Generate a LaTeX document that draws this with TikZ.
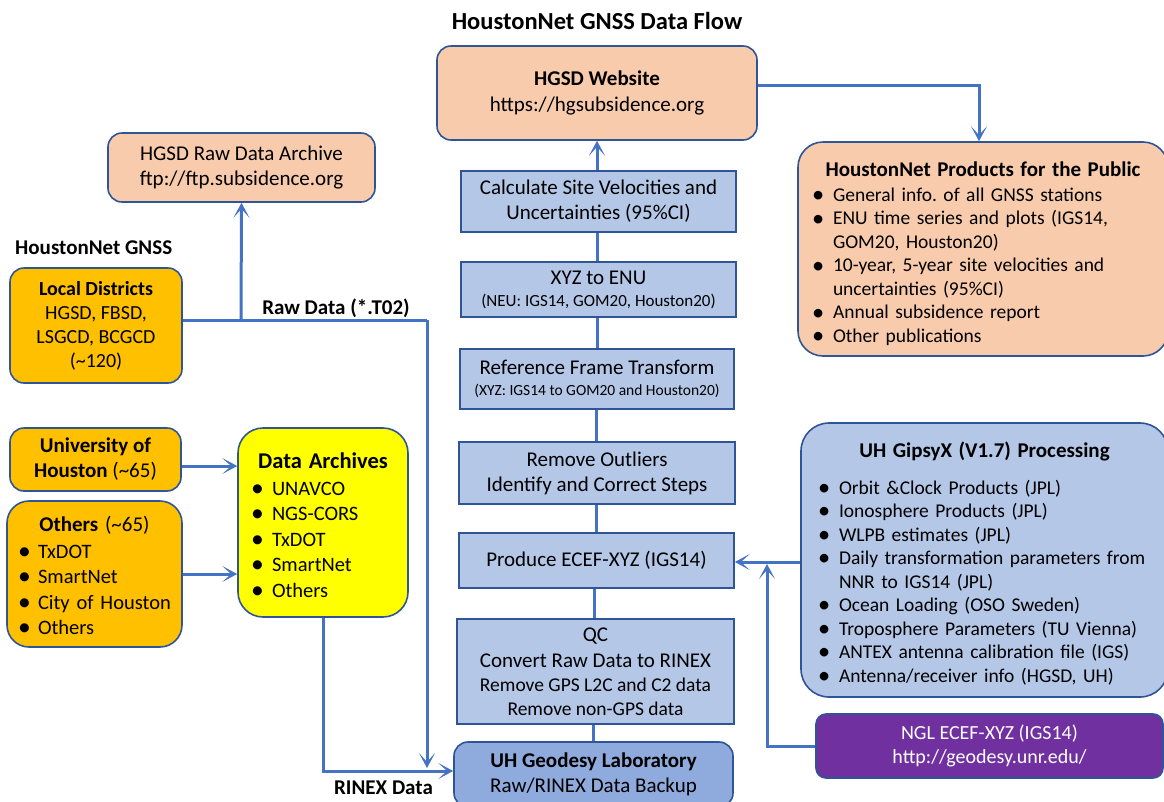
\documentclass[tikz,border=0pt]{standalone}
\usepackage{fontspec}
\setmainfont{Carlito}
\usetikzlibrary{arrows.meta}
\definecolor{peach}{HTML}{F8CBAD}
\definecolor{boxblue}{HTML}{B4C7E7}
\definecolor{labblue}{HTML}{8FAADC}
\definecolor{gold}{HTML}{FFC000}
\definecolor{yel}{HTML}{FFFF00}
\definecolor{purp}{HTML}{7030A0}
\definecolor{edge}{HTML}{2F5597}
\definecolor{flow}{HTML}{4472C4}
\newcommand{\fmain}{\fontsize{21}{25}\selectfont}
\newcommand{\flist}{\fontsize{19.5}{23.5}\selectfont}
\newcommand{\bigbul}{\raisebox{-0.12ex}{\scalebox{1.25}{\textbullet}}}
\newcommand{\bul}{\makebox[21pt][l]{\bigbul}}
\newcommand{\bulb}{\makebox[20pt][l]{\bigbul}}
\frenchspacing
\hyphenpenalty=10000
\begin{document}
\begin{tikzpicture}[x=1pt,y=-1pt,
  box/.style={draw=edge, line width=1.6pt, align=center, inner sep=0pt, font=\fmain},
  rbox/.style={box, rounded corners=14pt},
  flowline/.style={draw=flow, line width=3pt},
  flowarrow/.style={flowline, -{Stealth[length=15pt,width=16pt,inset=9pt]}},
  lbl/.style={font=\fmain\bfseries, inner sep=0pt}]
\useasboundingbox (0,0) rectangle (1164,801);

% title
\node[font=\fontsize{24.5}{29}\selectfont\bfseries, inner sep=0pt] (title) at (597,21) {HoustonNet GNSS Data Flow};

% central column
\node[rbox, fill=peach, minimum width=320pt, minimum height=94pt, font=\fontsize{21}{26}\selectfont] (web) at (597,93)
  {\textbf{HGSD Website}\\https://hgsubsidence.org};
\node[box, fill=boxblue, minimum width=275pt, minimum height=61pt] (calc) at (598.5,201.5)
  {Calculate Site Velocities and\\Uncertainties (95\%CI)};
\node[box, fill=boxblue, minimum width=275pt, minimum height=55pt] (enu) at (598.5,289.5)
  {XYZ to ENU\\[-3pt]{\fontsize{17}{20}\selectfont (NEU: IGS14, GOM20, Houston20)}};
\node[box, fill=boxblue, minimum width=274pt, minimum height=60pt] (rft) at (597,379)
  {Reference Frame Transform\\[-4pt]{\fontsize{15.5}{18}\selectfont (XYZ: IGS14 to GOM20 and Houston20)}};
\node[box, fill=boxblue, minimum width=276pt, minimum height=62pt] (outl) at (597,473)
  {Remove Outliers\\Identify and Correct Steps};
\node[box, fill=boxblue, minimum width=275pt, minimum height=55pt] (ecef) at (596.5,560.5)
  {Produce ECEF-XYZ (IGS14)};
\node[box, fill=boxblue, minimum width=277pt, minimum height=105pt] (qc) at (595.5,671.5)
  {QC\\[1pt]Convert Raw Data to RINEX\\[-1pt]{\fontsize{19.5}{23.5}\selectfont Remove GPS L2C and C2 data}\\[-1pt]{\fontsize{19.5}{23.5}\selectfont Remove non-GPS data}};
\node[rbox, fill=labblue, minimum width=279pt, minimum height=65pt] (lab) at (593.5,774.5)
  {\textbf{UH Geodesy Laboratory}\\Raw/RINEX Data Backup};

% left side
\node[rbox, fill=peach, minimum width=267pt, minimum height=69pt] (arch) at (241.5,167.5)
  {HGSD Raw Data Archive\\ftp://ftp.subsidence.org};
\node[lbl, anchor=west] (hgnss) at (15,248) {HoustonNet GNSS};
\node[rbox, fill=gold, minimum width=172pt, minimum height=115pt, font=\fontsize{20}{24}\selectfont] (local) at (96,325.5)
  {\textbf{Local Districts}\\HGSD, FBSD,\\LSGCD, BCGCD\\(\textasciitilde120)};
\node[rbox, fill=gold, minimum width=171pt, minimum height=63pt] (uh) at (95.5,459.5)
  {\textbf{University of}\\\textbf{Houston} (\textasciitilde65)};
\node[rbox, fill=gold, minimum width=175pt, minimum height=146pt, rounded corners=22pt,
      text width=153pt, inner xsep=11pt, align=left, font=\fontsize{20.5}{25.5}\selectfont] (others) at (94.5,574)
  {\makebox[\linewidth][c]{\fontsize{21}{25}\selectfont\rule{0pt}{19pt}\textbf{Others} (\textasciitilde65)}\\[1.5pt]
   \bulb\mbox{TxDOT}\\\bulb\mbox{SmartNet}\\\bulb\mbox{City of Houston}\\\bulb\mbox{Others}};
\node[rbox, fill=yel, minimum width=170pt, minimum height=189pt, rounded corners=25pt,
      text width=144pt, inner xsep=13pt, align=left, font=\fontsize{20.5}{25.5}\selectfont] (da) at (323,522.5)
  {\makebox[\linewidth][c]{\fontsize{22.5}{27}\selectfont\rule{0pt}{22pt}\bfseries Data Archives}\\[1pt]
   \bul UNAVCO\\\bul NGS-CORS\\\bul TxDOT\\\bul SmartNet\\\bul Others};

% right side
\node[rbox, fill=peach, minimum width=370pt, minimum height=214pt, rounded corners=25pt,
      text width=342pt, inner xsep=14pt, align=left, font=\flist] (prod) at (983,249)
  {\makebox[\linewidth][c]{\fontsize{21}{25}\selectfont\rule{0pt}{24pt}\bfseries HoustonNet Products for the Public}\\[1.5pt]
   \bul General info. of all GNSS stations\\
   \bul ENU time series and plots (IGS14,\\
   \hspace*{21pt}GOM20, Houston20)\\
   \bul 10-year, 5-year site velocities and\\
   \hspace*{21pt}uncertainties (95\%CI)\\
   \bul Annual subsidence report\\
   \bul Other publications};
\node[rbox, fill=boxblue, minimum width=367pt, minimum height=274pt, rounded corners=28pt,
      text width=333pt, inner xsep=17pt, align=left, font=\flist] (gipsy) at (984.5,560)
  {\makebox[\linewidth][c]{\fontsize{21}{25}\selectfont\rule{0pt}{22pt}\bfseries UH GipsyX (V1.7) Processing}\\[13.5pt]
   \bul Orbit \&Clock Products (JPL)\\
   \bul Ionosphere Products (JPL)\\
   \bul WLPB estimates (JPL)\\
   \bul Daily transformation parameters from\\
   \hspace*{21pt}NNR to IGS14 (JPL)\\
   \bul Ocean Loading (OSO Sweden)\\
   \bul Troposphere Parameters (TU Vienna)\\
   \bul ANTEX antenna calibration file (IGS)\\
   \bul Antenna/receiver info (HGSD, UH)};
\node[rbox, fill=purp, text=white, minimum width=347pt, minimum height=64pt, rounded corners=10pt,
      font=\fontsize{20}{24}\selectfont] (ngl) at (989.5,746)
  {NGL ECEF-XYZ (IGS14)\\http://geodesy.unr.edu/};

% labels
\node[lbl] (rawlbl) at (336,308) {Raw Data (*.T02)};
\node[lbl] (rinexlbl) at (383.5,788) {RINEX Data};

% helper coordinates
\coordinate (j1) at (241,320);
\coordinate (j2) at (427,320);
\coordinate (rawend) at (427,768);
\coordinate (nglend) at (767,564);

% connectors
\draw[flowline] (local.east |- j1) -- (j2);
\draw[flowarrow] (j2) -- (rawend);
\draw[flowarrow] (j1) -- (arch.south);
\draw[flowarrow] ([yshift=-6.5pt]uh.east) -- ([yshift=-6.5pt]uh.east -| da.west);
\draw[flowarrow] (others.east) -- (others.east -| da.west);
\draw[flowarrow] (da.south) |- ([yshift=3.5pt]lab.west);

\draw[flowarrow] (calc.north -| web.south) -- (web.south);
\draw[flowline] (calc.south -| 597,0) -- (enu.north -| 597,0);
\draw[flowline] (enu.south -| 597,0) -- (rft.north -| 597,0);
\draw[flowline] (rft.south -| 596,0) -- (outl.north -| 596,0);
\draw[flowline] (outl.south -| 596,0) -- (ecef.north -| 596,0);
\draw[flowline] (ecef.south -| 594,0) -- (qc.north -| 594,0);
\draw[flowline] (qc.south -| 593,0) -- (lab.north -| 593,0);

\draw[flowarrow] ([yshift=8pt]web.east) -| ([xshift=-4pt]prod.north);
\draw[flowarrow] ([yshift=-2pt]gipsy.west) -- ([yshift=-2pt]gipsy.west -| ecef.east);
\draw[flowarrow] (ngl.west) -| (nglend);
\end{tikzpicture}
\end{document}
